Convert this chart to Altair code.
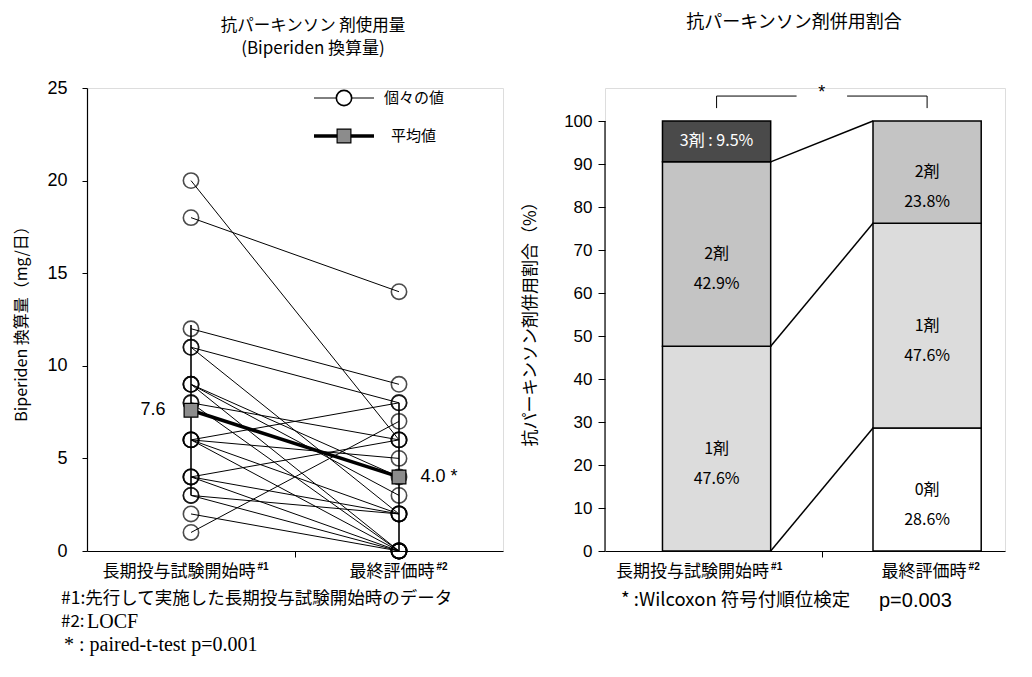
import altair as alt
import pandas as pd

# ---------------- data (left panel) ----------------
time_labels = ["長期投与試験開始時", "最終評価時"]
time_marks = ["#1", "#2"]
start_dose = [20, 18, 12, 11, 11, 9, 9, 9, 8, 8, 6, 6, 6, 6, 4, 4, 4, 3, 3, 2, 1]
end_dose = [6, 14, 9, 8, 2, 4, 0, 3, 6, 0, 8, 5, 2, 0, 6, 2, 0, 0, 2, 0, 7]
mean_dose = [7.6, 4.0]
mean_labels = ["7.6", "4.0 *"]
sd_low = [3.0, 0.0]
sd_high = [12.2, 8.0]
dose_ticks = [0, 5, 10, 15, 20, 25]

# ---------------- data (right panel) ----------------
drug_levels = ["0剤", "1剤", "2剤", "3剤"]
pct_start = [0.0, 47.6, 42.9, 9.5]
pct_end = [28.6, 47.6, 23.8, 0.0]
pct_ticks = [0, 10, 20, 30, 40, 50, 60, 70, 80, 90, 100]

# ---------------- styles ----------------
JP = "Noto Sans CJK JP"
SANS = "Liberation Sans"
SERIF = "Liberation Serif"
W1, H = 416, 463
W2 = 400
XD1 = [-0.5, 1.5]
XD2 = [-0.53, 1.37]
PXU1 = W1 / (XD1[1] - XD1[0])   # pixels per x unit, left
PXU2 = W2 / (XD2[1] - XD2[0])   # pixels per x unit, right
level_colors = ["#ffffff", "#dcdcdc", "#c4c4c4", "#4a4a4a"]
LAB_FS = 17
label_dx_left = [-12, -7]
label_dx_right = [-24, -3]
mean_dx = [-38, 40]
HW = 0.257  # half bar width (in x units)

# ---------------- left panel ----------------
rows = []
for i, (s, e) in enumerate(zip(start_dose, end_dose)):
    rows.append({"id": i, "t": 0, "v": s})
    rows.append({"id": i, "t": 1, "v": e})
ind = pd.DataFrame(rows)
mean_df = pd.DataFrame({"t": [0, 1], "v": mean_dose, "lab": mean_labels,
                        "lo": sd_low, "hi": sd_high})
mean_df["tx"] = [t + d / PXU1 for t, d in zip(mean_df["t"], mean_dx)]
cat_df = pd.DataFrame({"t": [0, 1], "lab": time_labels, "sup": time_marks})
cat_df["tx"] = [t + d / PXU1 for t, d in zip(cat_df["t"], label_dx_left)]
cat_df["sx"] = [t + (d + len(l) * LAB_FS / 2 + 2) / PXU1
                for t, d, l in zip(cat_df["t"], label_dx_left, cat_df["lab"])]

xs = alt.Scale(domain=XD1, nice=False, zero=False)
ys = alt.Scale(domain=[0, 25], nice=False)
xaxis = alt.Axis(values=[0.5], labels=False, title=None, tickSize=6, grid=False,
                 domainColor="black", tickColor="black", domainWidth=1.2)
yaxis = alt.Axis(values=dose_ticks, grid=False, title="Biperiden 換算量（mg/日）",
                 labelFont=SANS, labelFontSize=18, labelColor="black", labelPadding=15,
                 titleFont=JP, titleFontSize=16, titleFontWeight="normal", titleColor="black",
                 titlePadding=17, tickSize=5, domainColor="black", tickColor="black",
                 domainWidth=1.2)

X = alt.X("t:Q", scale=xs, axis=xaxis)
Y = alt.Y("v:Q", scale=ys, axis=yaxis)

base_ind = alt.Chart(ind)
lines = base_ind.mark_line(color="black", strokeWidth=1).encode(x=X, y=Y, detail="id:N")
circles = base_ind.mark_point(shape="circle", filled=False, size=235, color="black",
                              strokeWidth=1.6).encode(x=X, y=Y)
sd_rule = alt.Chart(mean_df).mark_rule(color="black", strokeWidth=1.6).encode(
    x=X, y=alt.Y("lo:Q", scale=ys), y2="hi:Q")
mean_line = alt.Chart(mean_df).mark_line(color="black", strokeWidth=3.5).encode(x=X, y=Y)
mean_sq = alt.Chart(mean_df).mark_square(size=190, fill="#8c8c8c", stroke="black",
                                         strokeWidth=1.2, opacity=1).encode(x=X, y=Y)
mean_txt = alt.Chart(mean_df).mark_text(font=SANS, fontSize=18, color="black",
                                        align="center", baseline="middle").encode(
    x=alt.X("tx:Q", scale=xs), y=Y, text="lab:N")

cat_txt = alt.Chart(cat_df).mark_text(font=JP, fontSize=LAB_FS, color="black",
                                      baseline="middle").encode(
    x=alt.X("tx:Q", scale=xs), y=alt.value(H + 21), text="lab:N")
sup_txt = alt.Chart(cat_df).mark_text(font=SANS, fontSize=10, fontWeight="bold",
                                      color="black", align="left", baseline="middle").encode(
    x=alt.X("sx:Q", scale=xs), y=alt.value(H + 16), text="sup:N")

# legend (drawn)
one = pd.DataFrame({"a": [0]})
leg_ind_line = alt.Chart(one).mark_rule(color="black", strokeWidth=1).encode(
    x=alt.value(227), x2=alt.value(287), y=alt.value(10))
leg_ind_pt = alt.Chart(one).mark_point(
    shape="circle", filled=True, fill="white", size=235, color="black", strokeWidth=1.6,
    stroke="black", opacity=1).encode(x=alt.value(257), y=alt.value(10))
leg_mean_line = alt.Chart(one).mark_rule(color="black", strokeWidth=3.5).encode(
    x=alt.value(227), x2=alt.value(287), y=alt.value(48))
leg_mean_sq = alt.Chart(one).mark_square(
    size=190, fill="#8c8c8c", stroke="black", strokeWidth=1.2, opacity=1).encode(
    x=alt.value(257), y=alt.value(48))
leg_txt1 = alt.Chart(pd.DataFrame({"s": ["個々の値"]})).mark_text(
    font=JP, fontSize=15, color="black", align="left", baseline="middle").encode(
    x=alt.value(297), y=alt.value(10), text="s:N")
leg_txt2 = alt.Chart(pd.DataFrame({"s": ["平均値"]})).mark_text(
    font=JP, fontSize=15, color="black", align="left", baseline="middle").encode(
    x=alt.value(304), y=alt.value(48), text="s:N")

foot1 = alt.Chart(pd.DataFrame({"s": ["#1:先行して実施した長期投与試験開始時のデータ"]})).mark_text(
    font=JP, fontSize=17.5, color="black", align="left", baseline="middle").encode(
    x=alt.value(-26), y=alt.value(H + 48), text="s:N")
foot2a = alt.Chart(pd.DataFrame({"s": ["#2:"]})).mark_text(
    font=JP, fontSize=17, color="black", align="left", baseline="middle").encode(
    x=alt.value(-26), y=alt.value(H + 71), text="s:N")
foot2b = alt.Chart(pd.DataFrame({"s": ["LOCF"]})).mark_text(
    font=SERIF, fontSize=20, color="black", align="left", baseline="middle").encode(
    x=alt.value(0), y=alt.value(H + 71), text="s:N")
foot3 = alt.Chart(pd.DataFrame({"s": ["* :  paired-t-test  p=0.001"]})).mark_text(
    font=SERIF, fontSize=20, color="black", align="left", baseline="middle").encode(
    x=alt.value(-23), y=alt.value(H + 94), text="s:N")

left = alt.layer(
    lines, sd_rule, circles, mean_line, mean_sq, mean_txt, cat_txt, sup_txt,
    leg_ind_line, leg_ind_pt, leg_mean_line, leg_mean_sq, leg_txt1, leg_txt2,
    foot1, foot2a, foot2b, foot3,
).properties(
    width=W1, height=H,
    title=alt.TitleParams("抗パーキンソン 剤使用量", subtitle="(Biperiden 換算量)",
                          font=JP, fontSize=16.5, fontWeight="normal", color="black",
                          subtitleFont=JP, subtitleFontSize=17, subtitleColor="black",
                          subtitlePadding=7, anchor="middle", offset=22, dx=18),
)

# ---------------- right panel ----------------
bar_rows = []
for t, pcts in enumerate([pct_start, pct_end]):
    cum = 0.0
    for lev, p in zip(drug_levels, pcts):
        if p > 0:
            bar_rows.append({"t": t, "x0": t - HW, "x1": t + HW, "lev": lev,
                             "y0": cum, "y1": cum + p, "mid": cum + p / 2,
                             "pct": p})
        cum += p
bars_df = pd.DataFrame(bar_rows)
bars_df["lab"] = [f"{l} : {p}%" if l == "3剤" else f"{l}\n{p}%"
                  for l, p in zip(bars_df["lev"], bars_df["pct"])]
bars_df["tc"] = ["white" if l == "3剤" else "black" for l in bars_df["lev"]]

conn_rows = []
cs, ce = 0.0, 0.0
for lev, ps, pe in zip(drug_levels[:3], pct_start, pct_end):
    cs += ps
    ce += pe
    conn_rows.append({"xa": HW, "xb": 1 - HW, "ya": cs, "yb": ce})
conn_df = pd.DataFrame(conn_rows)

ymax2 = 100 * H / 430
xs2 = alt.Scale(domain=XD2, nice=False, zero=False)
ys2 = alt.Scale(domain=[0, ymax2], nice=False)
xaxis2 = alt.Axis(values=[0.5], labels=False, title=None, tickSize=6, grid=False,
                  domainColor="black", tickColor="black", domainWidth=1.2)
yaxis2 = alt.Axis(values=pct_ticks, grid=False, title="抗パーキンソン剤併用割合（%）",
                  labelFont=SANS, labelFontSize=17, labelColor="black", labelPadding=6,
                  titleFont=JP, titleFontSize=17, titleFontWeight="normal",
                  titleColor="black", titlePadding=24, tickSize=7, domain=False,
                  tickColor="black")

bars = alt.Chart(bars_df).mark_rect(stroke="black", strokeWidth=1.5).encode(
    x=alt.X("x0:Q", scale=xs2, axis=xaxis2), x2="x1:Q",
    y=alt.Y("y0:Q", scale=ys2, axis=yaxis2), y2="y1:Q",
    fill=alt.Fill("lev:N", scale=alt.Scale(domain=drug_levels, range=level_colors),
                  legend=None))
conn = alt.Chart(conn_df).mark_rule(color="black", strokeWidth=1.5).encode(
    x=alt.X("xa:Q", scale=xs2), x2="xb:Q", y=alt.Y("ya:Q", scale=ys2), y2="yb:Q")
bar_txt = alt.Chart(bars_df).mark_text(font=JP, fontSize=16, lineBreak="\n",
                                       lineHeight=30, baseline="middle").encode(
    x=alt.X("t:Q", scale=xs2), y=alt.Y("mid:Q", scale=ys2), text="lab:N",
    color=alt.Color("tc:N", scale=None))
yline = alt.Chart(one).mark_rule(color="black", strokeWidth=1.2).encode(
    x=alt.value(0), y=alt.datum(0, scale=ys2), y2=alt.datum(100))

# significance bracket
br_df = pd.DataFrame({"xa": [0, 0.62, 0, 1], "xb": [0.38, 1, 0, 1],
                      "ya": [105.8, 105.8, 105.8, 105.8], "yb": [105.8, 105.8, 103.0, 103.0]})
bracket = alt.Chart(br_df).mark_rule(color="black", strokeWidth=1).encode(
    x=alt.X("xa:Q", scale=xs2), x2="xb:Q", y=alt.Y("ya:Q", scale=ys2), y2="yb:Q")
star = alt.Chart(pd.DataFrame({"x": [0.5], "y": [106.6], "s": ["*"]})).mark_text(
    font=SANS, fontSize=18, color="black").encode(
    x=alt.X("x:Q", scale=xs2), y=alt.Y("y:Q", scale=ys2), text="s:N")

cat_df2 = pd.DataFrame({"t": [0, 1], "lab": time_labels, "sup": time_marks})
cat_df2["tx"] = [t + d / PXU2 for t, d in zip(cat_df2["t"], label_dx_right)]
cat_df2["sx"] = [t + (d + len(l) * LAB_FS / 2 + 2) / PXU2
                 for t, d, l in zip(cat_df2["t"], label_dx_right, cat_df2["lab"])]
cat_txt2 = alt.Chart(cat_df2).mark_text(font=JP, fontSize=LAB_FS, color="black",
                                        baseline="middle").encode(
    x=alt.X("tx:Q", scale=xs2), y=alt.value(H + 21), text="lab:N")
sup_txt2 = alt.Chart(cat_df2).mark_text(font=SANS, fontSize=10, fontWeight="bold",
                                        color="black", align="left",
                                        baseline="middle").encode(
    x=alt.X("sx:Q", scale=xs2), y=alt.value(H + 16), text="sup:N")
foot_r = alt.Chart(pd.DataFrame({"s": ["* :Wilcoxon 符号付順位検定"]})).mark_text(
    font=JP, fontSize=18.5, color="black", align="left", baseline="middle").encode(
    x=alt.value(16), y=alt.value(H + 49), text="s:N")
foot_r2 = alt.Chart(pd.DataFrame({"s": ["p=0.003"]})).mark_text(
    font=SANS, fontSize=20, color="black", align="left", baseline="middle").encode(
    x=alt.value(274), y=alt.value(H + 50), text="s:N")

right = alt.layer(bars, conn, bar_txt, yline, bracket, star, cat_txt2, sup_txt2,
                  foot_r, foot_r2).properties(
    width=W2, height=H,
    title=alt.TitleParams("抗パーキンソン剤併用割合", font=JP, fontSize=18,
                          fontWeight="normal", color="black", anchor="middle", offset=52,
                          dx=-11),
)

chart = alt.hconcat(left, right, spacing=17).configure_view(strokeWidth=0).configure(
    background="white")

chart.save("out.html", embed_options={"renderer": "svg", "actions": False})
